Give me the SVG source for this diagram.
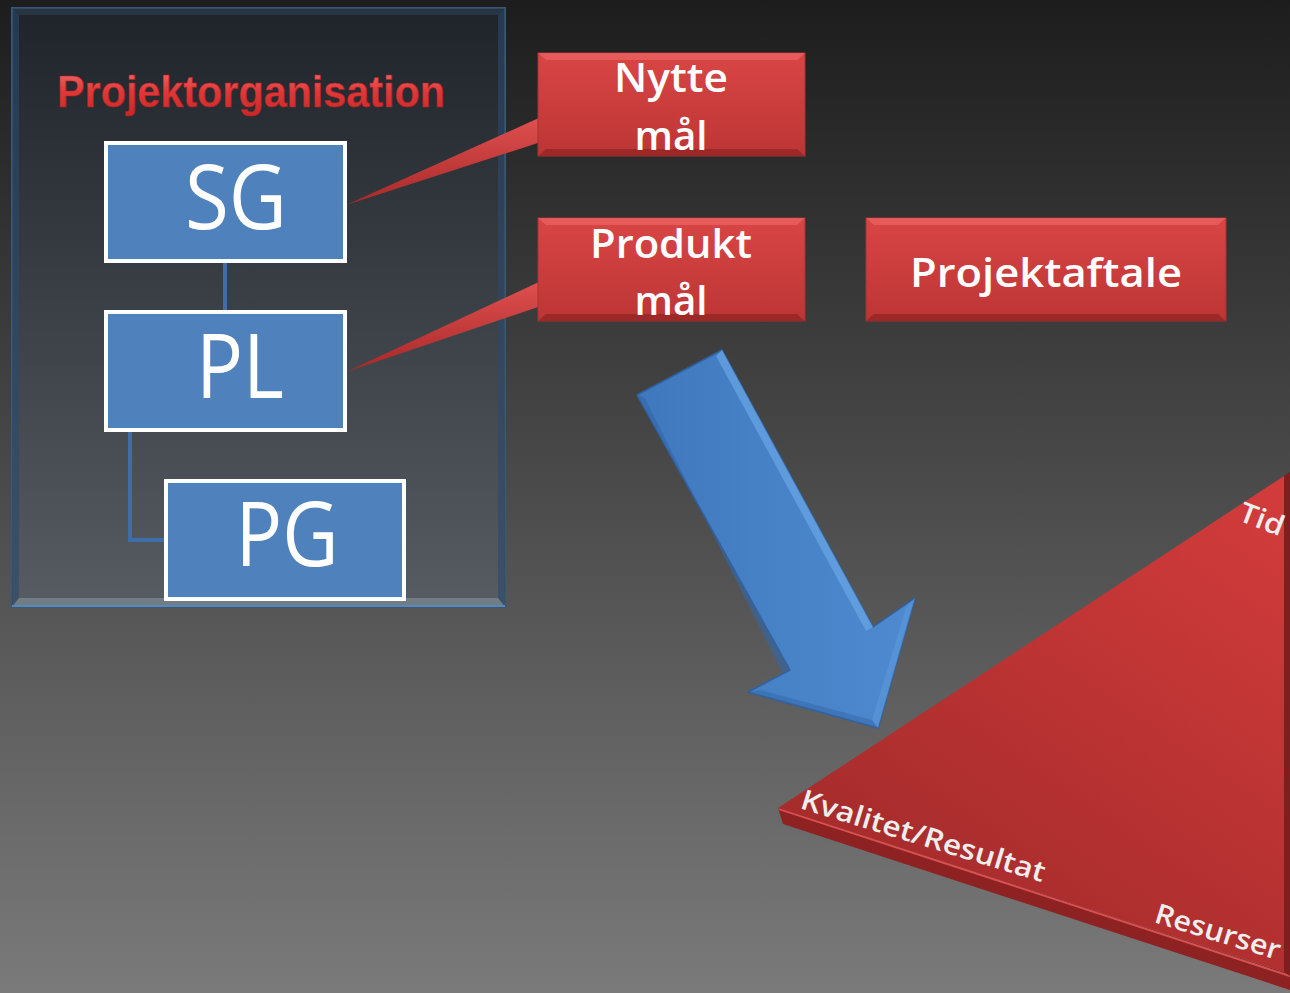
<svg xmlns="http://www.w3.org/2000/svg" width="1290" height="993" viewBox="0 0 1290 993">
<defs>
<linearGradient id="bg" x1="0" y1="0" x2="0" y2="1">
<stop offset="0" stop-color="#1d1d1d"/>
<stop offset="1" stop-color="#7a7a7a"/>
</linearGradient>
<linearGradient id="panel" x1="0" y1="0" x2="0" y2="1">
<stop offset="0" stop-color="#1f232a"/>
<stop offset="1" stop-color="#575c63"/>
</linearGradient>
<linearGradient id="redbox" x1="0" y1="0" x2="0" y2="1">
<stop offset="0" stop-color="#d94545"/>
<stop offset="1" stop-color="#bd3535"/>
</linearGradient>
<linearGradient id="wedge" x1="0" y1="0" x2="0" y2="1">
<stop offset="0" stop-color="#e05050"/>
<stop offset="1" stop-color="#a82828"/>
</linearGradient>
<linearGradient id="blue" x1="0" y1="0" x2="1" y2="0">
<stop offset="0" stop-color="#3f78bd"/>
<stop offset="1" stop-color="#4f8ad0"/>
</linearGradient>
<linearGradient id="tri" x1="1" y1="0" x2="0.3" y2="1">
<stop offset="0" stop-color="#d43c3c"/>
<stop offset="1" stop-color="#a22a2a"/>
</linearGradient>
<linearGradient id="title" x1="0" y1="0" x2="0" y2="1">
<stop offset="0" stop-color="#f07070"/>
<stop offset="0.5" stop-color="#e03838"/>
<stop offset="1" stop-color="#c82828"/>
</linearGradient>
<style>
.org{fill:#4f81bd;stroke:#ffffff;stroke-width:4}
.orgt{font-family:"Open Sans","Liberation Sans",sans-serif;font-size:90px;fill:#ffffff;text-anchor:middle}
.rt{font-family:"Open Sans","Liberation Sans",sans-serif;font-weight:600;font-size:40px;fill:#ffffff;text-anchor:middle}
.lab{font-family:"Open Sans","Liberation Sans",sans-serif;font-weight:600;font-size:28px;fill:#eeeeee}
.conn{fill:none;stroke:#3d6ea8;stroke-width:4}
.rbox{fill:url(#redbox);stroke:#a83030;stroke-width:1}
.hl{fill:#ea6060;opacity:0.8}
.sh{fill:#952525;opacity:0.8}
</style>
</defs>
<rect x="0" y="0" width="1290" height="993" fill="url(#bg)"/>

<g id="panel">
<rect x="12" y="8" width="493" height="599" fill="url(#panel)" stroke="#3b5777" stroke-width="2"/>
<polygon points="12,8 19,15 19,598 12,607" fill="#2c4a6a" opacity="0.6"/>
<polygon points="505,8 498,15 498,598 505,607" fill="#2c4a6a" opacity="0.6"/>
<polygon points="12,8 505,8 498,15 19,15" fill="#2c3f55" opacity="0.6"/>
<polygon points="12,607 505,607 498,598 19,598" fill="#7e8a96" opacity="0.7"/>
<line x1="12" y1="606" x2="505" y2="606" stroke="#5b87b5" stroke-width="2"/>
<text x="251" y="107" font-family="Liberation Sans, sans-serif" font-weight="bold" font-size="44" fill="url(#title)" stroke="#b02020" stroke-width="0.6" text-anchor="middle" textLength="388" lengthAdjust="spacingAndGlyphs">Projektorganisation</text>
</g>

<g id="connectors">
<line class="conn" x1="225" y1="262" x2="225" y2="311"/>
<polyline class="conn" points="130,431 130,540 165,540"/>
<polygon points="541,117 346,205 544,141" fill="url(#wedge)"/>
<polygon points="541,281 346,372 544,305" fill="url(#wedge)"/>
</g>

<g id="node-sg">
<rect class="org" x="106" y="143" width="239" height="118"/>
<text class="orgt" x="236" y="229" textLength="102" lengthAdjust="spacingAndGlyphs">SG</text>
</g>
<g id="node-pl">
<rect class="org" x="106" y="312" width="239" height="118"/>
<text class="orgt" x="240" y="398" textLength="88" lengthAdjust="spacingAndGlyphs">PL</text>
</g>
<g id="node-pg">
<rect class="org" x="166" y="481" width="238" height="118"/>
<text class="orgt" x="287" y="566" textLength="103" lengthAdjust="spacingAndGlyphs">PG</text>
</g>

<g id="node-nytte">
<rect class="rbox" x="538" y="53" width="267" height="103"/>
<polygon class="hl" points="538,53 805,53 797,60 546,60"/>
<polygon class="sh" points="538,156 805,156 797,149 546,149"/>
<text class="rt" x="671" y="92" textLength="114" lengthAdjust="spacingAndGlyphs">Nytte</text>
<text class="rt" x="671" y="150" textLength="73" lengthAdjust="spacingAndGlyphs">mål</text>
</g>
<g id="node-produkt">
<rect class="rbox" x="538" y="218" width="267" height="103"/>
<polygon class="hl" points="538,218 805,218 797,225 546,225"/>
<polygon class="sh" points="538,321 805,321 797,314 546,314"/>
<text class="rt" x="671" y="258" textLength="162" lengthAdjust="spacingAndGlyphs">Produkt</text>
<text class="rt" x="671" y="315" textLength="73" lengthAdjust="spacingAndGlyphs">mål</text>
</g>
<g id="node-projektaftale">
<rect class="rbox" x="866" y="218" width="360" height="103"/>
<polygon class="hl" points="866,218 1226,218 1218,225 874,225"/>
<polygon class="sh" points="866,321 1226,321 1218,314 874,314"/>
<text class="rt" x="1046" y="287" textLength="272" lengthAdjust="spacingAndGlyphs">Projektaftale</text>
</g>

<g id="arrow">
<polygon points="637,395 722,350 873,627 915,598 878,728 748,692 790,670" fill="url(#blue)" stroke="#2f62a0" stroke-width="1.5" stroke-linejoin="round"/>
<polygon points="722,350 873,627 866,631 716,356" fill="#6aa6e6" opacity="0.7"/>
<polygon points="915,598 878,728 872,720 906,608" fill="#5a96da" opacity="0.7"/>
<polygon points="637,395 790,670 782,672 645,398" fill="#3468a8" opacity="0.6"/>
<polygon points="748,692 878,728 872,720 760,690" fill="#3468a8" opacity="0.5"/>
</g>

<g id="triangle">
<polygon points="778,808 1290,974 1290,990 783,824" fill="#8e2222"/>
<line x1="779" y1="809" x2="1290" y2="976" stroke="#d85050" stroke-width="2"/>
<polygon points="778,808 1284,476 1284,972" fill="url(#tri)"/>
<polygon points="1284,476 1290,472 1290,976 1284,972" fill="#7e1e1e"/>
<text class="lab" transform="translate(1237,520) rotate(21)" textLength="46" lengthAdjust="spacingAndGlyphs">Tid</text>
<text class="lab" transform="translate(799,808) rotate(17)" textLength="254" lengthAdjust="spacingAndGlyphs">Kvalitet/Resultat</text>
<text class="lab" transform="translate(1153,922) rotate(17)" textLength="130" lengthAdjust="spacingAndGlyphs">Resurser</text>
</g>
</svg>
